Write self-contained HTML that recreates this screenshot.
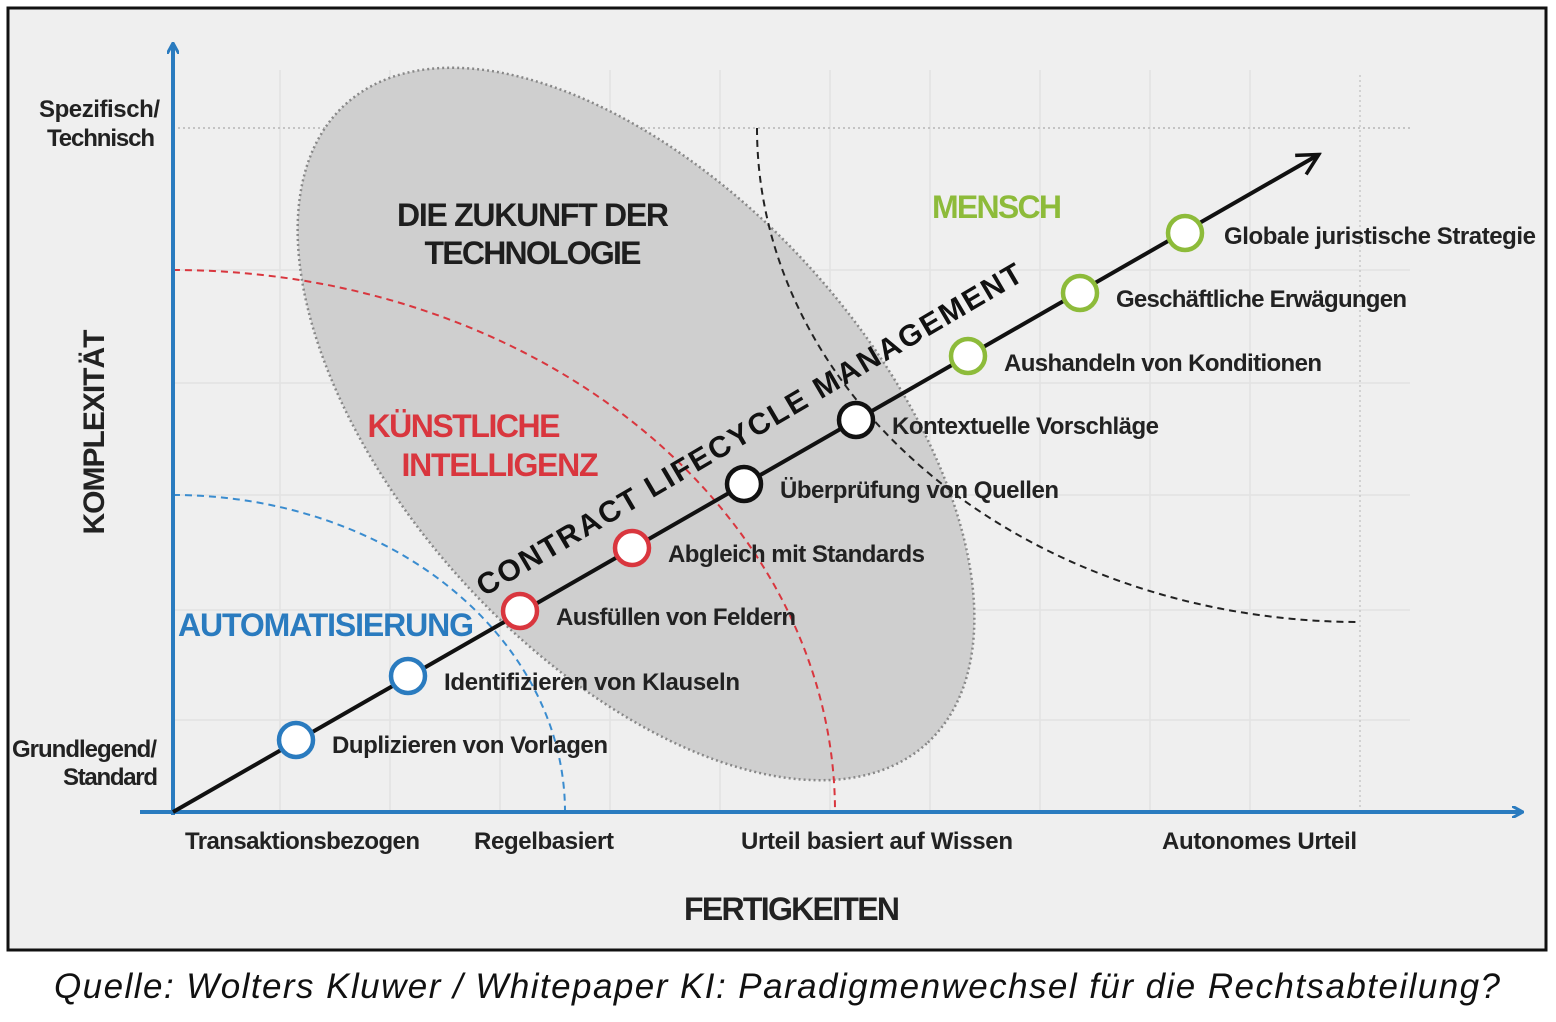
<!DOCTYPE html>
<html><head><meta charset="utf-8"><style>
html,body{margin:0;padding:0;background:#fff;}
svg{display:block;}
.l{font-family:"Liberation Sans Narrow","Liberation Sans",sans-serif;font-weight:bold;font-size:24px;fill:#222;}
</style></head><body>
<svg width="1556" height="1022" viewBox="0 0 1556 1022" xmlns="http://www.w3.org/2000/svg">
<defs>
<marker id="ab" markerWidth="12" markerHeight="12" refX="10" refY="6" orient="auto" markerUnits="userSpaceOnUse"><path d="M0,0 L11,6 L0,12" fill="none" stroke="#2a7bbf" stroke-width="3"/></marker>
<marker id="ak" markerWidth="26" markerHeight="26" refX="22" refY="13" orient="auto" markerUnits="userSpaceOnUse"><path d="M2,2 L23,13 L2,24" fill="none" stroke="#111" stroke-width="3.5"/></marker>
</defs>
<rect x="8" y="8" width="1538" height="942" fill="#efefef" stroke="#111" stroke-width="3"/>
<g stroke="#e2e2e2" stroke-width="1.5">
<line x1="280" y1="70" x2="280" y2="812"/><line x1="390" y1="70" x2="390" y2="812"/><line x1="500" y1="70" x2="500" y2="812"/><line x1="610" y1="70" x2="610" y2="812"/><line x1="720" y1="70" x2="720" y2="812"/><line x1="830" y1="70" x2="830" y2="812"/><line x1="930" y1="70" x2="930" y2="812"/><line x1="1040" y1="70" x2="1040" y2="812"/><line x1="1150" y1="70" x2="1150" y2="812"/><line x1="1250" y1="70" x2="1250" y2="812"/>
<line x1="173" y1="270" x2="1410" y2="270"/><line x1="173" y1="383" x2="1410" y2="383"/><line x1="173" y1="495" x2="1410" y2="495"/><line x1="173" y1="610" x2="1410" y2="610"/><line x1="173" y1="720" x2="1410" y2="720"/>
</g>
<line x1="1360" y1="75" x2="1360" y2="812" stroke="#c8c8c8" stroke-width="1.5" stroke-dasharray="2,3"/>
<line x1="173" y1="128" x2="1410" y2="128" stroke="#b5b5b5" stroke-width="1.5" stroke-dasharray="2,3"/>
<ellipse cx="636" cy="424" rx="432" ry="234" transform="rotate(47.7 636 424)" fill="#cfcfcf" stroke="#888" stroke-width="2.5" stroke-dasharray="2,3"/>
<path d="M173,495 A392,317 0 0 1 565,812" fill="none" stroke="#3a8ccf" stroke-width="2" stroke-dasharray="7,5"/>
<path d="M173,270 A662,542 0 0 1 835,812" fill="none" stroke="#d9363e" stroke-width="2" stroke-dasharray="7,5"/>
<path d="M757,128 A603,494 0 0 0 1360,622" fill="none" stroke="#222" stroke-width="2" stroke-dasharray="7,5"/>
<line x1="173" y1="815" x2="173" y2="44" stroke="#2a7bbf" stroke-width="4" marker-end="url(#ab)"/>
<line x1="140" y1="812" x2="1522" y2="812" stroke="#2a7bbf" stroke-width="4" marker-end="url(#ab)"/>
<line x1="173" y1="812" x2="1318" y2="155" stroke="#111" stroke-width="4" marker-end="url(#ak)"/>
<g fill="#fff" stroke-width="4.5">
<circle cx="296" cy="740" r="17" stroke="#2a7bbf"/><circle cx="408" cy="676" r="17" stroke="#2a7bbf"/>
<circle cx="520" cy="611" r="17" stroke="#d9363e"/><circle cx="632" cy="548" r="17" stroke="#d9363e"/>
<circle cx="744" cy="484" r="17" stroke="#111"/><circle cx="856" cy="420" r="17" stroke="#111"/>
<circle cx="968" cy="356" r="17" stroke="#8dbb3a"/><circle cx="1080" cy="293" r="17" stroke="#8dbb3a"/><circle cx="1185" cy="233" r="17" stroke="#8dbb3a"/>
</g>
<g class="l">
<text x="332" y="753" textLength="276">Duplizieren von Vorlagen</text>
<text x="444" y="690" textLength="296">Identifizieren von Klauseln</text>
<text x="556" y="625" textLength="240">Ausfüllen von Feldern</text>
<text x="668" y="562" textLength="257">Abgleich mit Standards</text>
<text x="780" y="498" textLength="279">Überprüfung von Quellen</text>
<text x="892" y="434" textLength="267">Kontextuelle Vorschläge</text>
<text x="1004" y="371" textLength="318">Aushandeln von Konditionen</text>
<text x="1116" y="307" textLength="291">Geschäftliche Erwägungen</text>
<text x="1224" y="244" textLength="312">Globale juristische Strategie</text>
<text x="185" y="849" textLength="235">Transaktionsbezogen</text>
<text x="474" y="849" textLength="140">Regelbasiert</text>
<text x="741" y="849" textLength="272">Urteil basiert auf Wissen</text>
<text x="1162" y="849" textLength="195">Autonomes Urteil</text>
<text x="39" y="117" textLength="121">Spezifisch/</text>
<text x="47" y="146" textLength="108">Technisch</text>
<text x="12" y="757" textLength="145">Grundlegend/</text>
<text x="63" y="785" textLength="95">Standard</text>
<text x="792" y="920" text-anchor="middle" style="font-size:32px" textLength="216">FERTIGKEITEN</text>
<text transform="translate(104,432) rotate(-90)" text-anchor="middle" style="font-size:30px" textLength="205">KOMPLEXITÄT</text>
<text x="533" y="226" text-anchor="middle" style="font-size:32px;fill:#1e1e1e" textLength="272">DIE ZUKUNFT DER</text>
<text x="533" y="264" text-anchor="middle" style="font-size:32px;fill:#1e1e1e" textLength="217">TECHNOLOGIE</text>
<text x="997" y="218" text-anchor="middle" style="font-size:32px;fill:#8dbb3a" textLength="130">MENSCH</text>
<text x="464" y="437" text-anchor="middle" style="font-size:32px;fill:#d9363e" textLength="193">KÜNSTLICHE</text>
<text x="500" y="476" text-anchor="middle" style="font-size:32px;fill:#d9363e" textLength="197">INTELLIGENZ</text>
<text x="178" y="636" style="font-size:32px;fill:#2a7bbf" textLength="296">AUTOMATISIERUNG</text>
<text transform="translate(484,597) rotate(-30.4)" style="font-size:30px;fill:#111" textLength="630" letter-spacing="3">CONTRACT LIFECYCLE MANAGEMENT</text>
</g>
<text x="777" y="998" text-anchor="middle" style="font-family:'Liberation Sans',Arial,sans-serif;font-style:italic;font-size:35px;fill:#111" textLength="1446">Quelle: Wolters Kluwer / Whitepaper KI: Paradigmenwechsel für die Rechtsabteilung?</text>
</svg>
</body></html>
